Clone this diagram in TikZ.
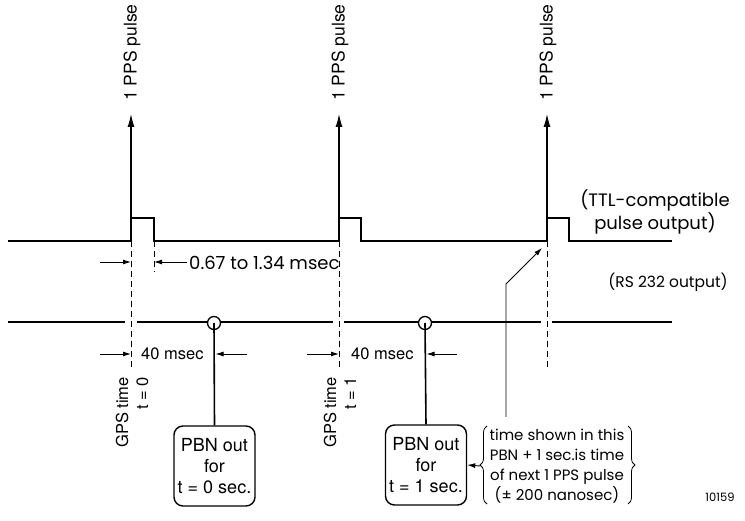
\documentclass[tikz,border=0pt]{standalone}
\usepackage{fontspec}
\setmainfont{TeX Gyre Heros}
\newfontfamily\geo{Poppins}
\usetikzlibrary{arrows.meta,decorations.pathreplacing}
\begin{document}
\begin{tikzpicture}[x=1pt,y=-1pt,
  sig/.style={line width=1.6pt},
  guide/.style={line width=1pt, dash pattern=on 6pt off 4pt},
  ppsarrow/.style={line width=1.1pt, -{Latex[length=13pt,width=7pt]}},
  dimarrow/.style={line width=0.9pt, -{Latex[length=8pt,width=5pt]}},
  pbnbox/.style={draw, line width=1.4pt, rounded corners=9pt, minimum width=81pt, minimum height=80pt, align=center, font=\fontsize{18}{21}\selectfont, inner sep=1pt},
  tap/.style={circle, draw, fill=white, line width=1.3pt, minimum size=13pt, inner sep=0pt},
  lbl/.style={font=\fontsize{16.5}{20}\selectfont, inner sep=0pt},
  ppslbl/.style={font=\fontsize{17.5}{20}\selectfont, inner sep=0pt, rotate=90, anchor=west},
  geolbl/.style={font=\geo\fontsize{15}{20}\selectfont, inner sep=0pt},
  bracestyle/.style={decorate, decoration={brace, amplitude=7pt}, line width=0.8pt},
]
\useasboundingbox (0,0) rectangle (745,521);

% TTL pulse output
\draw[sig] (8,241) -- (131,241) -- (131,218) -- (154,218) -- (154,241)
  -- (339,241) -- (339,218) -- (361,218) -- (361,241)
  -- (547,241) -- (547,218) -- (569,218) -- (569,241) -- (672,241);

% 1 PPS arrows
\coordinate (p0) at (131,218);
\coordinate (p1) at (339,218);
\coordinate (p2) at (547,218);
\coordinate (a0) at (131,114);
\coordinate (a1) at (339,114);
\coordinate (a2) at (547,114);
\draw[ppsarrow] (p0) -- (a0);
\draw[ppsarrow] (p1) -- (a1);
\draw[ppsarrow] (p2) -- (a2);
\node[ppslbl] (t0) at (132,101) {1 PPS pulse};
\node[ppslbl] (t1) at (340,101) {1 PPS pulse};
\node[ppslbl] (t2) at (548,101) {1 PPS pulse};

% dashed guides
\draw[guide] (131,241) -- (131,368);
\draw[guide] (154,241) -- (154,272);
\draw[guide] (339,241) -- (339,368);
\draw[guide] (547,241) -- (547,367);

% RS 232 line
\draw[sig] (8,322) -- (125,322) (137,322) -- (333,322) (344,322) -- (541,322) (552,322) -- (672,322);

\node[tap] (c0) at (214,323) {};
\node[tap] (c1) at (425,323) {};
\node[pbnbox] (pbn0) at (214.5,466) {PBN out\\for\\t = 0 sec.};
\node[pbnbox] (pbn1) at (426,465) {PBN out\\for\\t = 1 sec.};
\draw[sig] (c0.center) -- (pbn0.north);
\draw[sig] (c1.center) -- (pbn1.north);

% pulse width
\draw[dimarrow] (100,262) -- (131,262);
\draw[dimarrow] (187,262) -- (154,262);
\node[font=\geo\fontsize{18}{20}\selectfont, inner sep=0pt, anchor=west] (pw) at (189,263) {0.67 to 1.34 msec};

% 40 msec
\draw[dimarrow] (100,354) -- (131,354);
\node[lbl, anchor=west] (m0) at (141,354) {40 msec};
\draw[dimarrow] (247,354) -- (215.5,354);
\draw[dimarrow] (307,354) -- (339,354);
\node[lbl, anchor=west] (m1) at (351,354) {40 msec};
\draw[dimarrow] (457,354) -- (426.5,354);

% GPS time labels
\node[lbl, rotate=90, anchor=east, align=right] (g0) at (132,377) {GPS time\\t = 0};
\node[lbl, rotate=90, anchor=east, align=right] (g1) at (340,377) {GPS time\\t = 1};

% output labels
\node[font=\geo\fontsize{18}{23}\selectfont, inner sep=0pt, align=center] (ttl) at (655,212) {(TTL-compatible\\pulse output)};
\node[font=\geo\fontsize{15.5}{20}\selectfont, inner sep=0pt] (rs) at (668,282) {(RS 232 output)};

% note with braces
\node[geolbl, align=center] (note) at (557,466) {time shown in this\\PBN + 1 sec.is time\\of next 1 PPS pulse\\(± 200 nanosec)};
\coordinate (lb1) at (487,504);
\coordinate (lb2) at (487,426);
\coordinate (rb1) at (628,426);
\coordinate (rb2) at (628,504);
\draw[bracestyle] (lb1) -- (lb2);
\draw[bracestyle] (rb1) -- (rb2);
\coordinate (ltip) at (480,466);
\draw[dimarrow] (ltip) -- (pbn1.east);

% pointer to third pulse
\coordinate (q0) at (506,417);
\coordinate (q1) at (506,284);
\coordinate (q2) at (542,248);
\draw[dimarrow] (q0) -- (q1) -- (q2);

\node[font=\geo\fontsize{11.5}{14}\selectfont, inner sep=0pt] (fig) at (720,497) {10159};
\end{tikzpicture}
\end{document}
